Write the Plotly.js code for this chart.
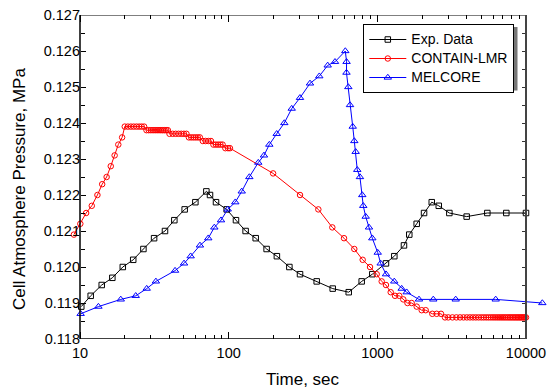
<!DOCTYPE html>
<html><head><meta charset="utf-8">
<script src="https://cdn.plot.ly/plotly-3.0.1.min.js"></script>
<style>html,body{margin:0;padding:0;background:#fff;} #chart{width:547px;height:392px;}</style>
</head><body><div id="chart"></div>
<script>
// ---- data ----
const expTime = [10.2, 11.8, 14.0, 16.5, 19.4, 22.8, 26.7, 31.5, 37.3, 43.1, 50.6, 59.7, 70.8, 74.9, 82.2, 97, 112, 130, 152, 180, 211, 256, 302, 391, 501, 642, 785, 925, 1143, 1301, 1511, 1640, 1840, 2062, 2323, 2589, 3051, 3990, 5493, 7370, 10000];
const expP = [0.1189, 0.1192, 0.1195, 0.1197, 0.1200, 0.1202, 0.1205, 0.1208, 0.1210, 0.1213, 0.1216, 0.1218, 0.1221, 0.1220, 0.1218, 0.1216, 0.1213, 0.1210, 0.1208, 0.1205, 0.1203, 0.1200, 0.1198, 0.1196, 0.1194, 0.1193, 0.1196, 0.1198, 0.1201, 0.1203, 0.1206, 0.1209, 0.1212, 0.1215, 0.1218, 0.1217, 0.1215, 0.1214, 0.1215, 0.1215, 0.1215];

const containTime = [9.1, 10.05, 11.0, 12.0, 13.1, 14.1, 15.1, 16.1, 17.1, 18.1, 19.2,
  20, 21, 22, 23, 24, 25, 26, 27,
  28, 29, 30, 31, 32, 33, 34, 35, 36, 37, 38, 39,
  40, 42, 44, 46, 48, 50, 52,
  54, 56, 58, 60, 62, 64,
  67, 70, 73, 76,
  79, 82, 85, 88, 91,
  95, 99, 102,
  199, 302, 401, 498, 597, 700, 797, 893, 990, 1070, 1143, 1230, 1315, 1405, 1495, 1595, 1702, 1840, 1988, 2115, 2343, 2507, 2681,
  2852, 3000, 3200, 3400, 3600, 3800, 4000, 4200, 4400, 4600, 4800, 5000, 5200, 5400, 5600, 5800, 6000, 6200, 6400, 6600, 6800, 7000, 7200, 7400, 7600, 7800, 8000, 8200, 8400, 8600, 8800, 9000, 9200, 9400, 9600, 9800, 10000];
const containP = [0.1209, 0.1212, 0.1215, 0.1217, 0.1220, 0.1223, 0.1225, 0.1228, 0.1231, 0.1234, 0.1236,
  0.1239, 0.1239, 0.1239, 0.1239, 0.1239, 0.1239, 0.1239, 0.1239,
  0.1238, 0.1238, 0.1238, 0.1238, 0.1238, 0.1238, 0.1238, 0.1238, 0.1238, 0.1238, 0.1238, 0.1238,
  0.1237, 0.1237, 0.1237, 0.1237, 0.1237, 0.1237, 0.1237,
  0.1236, 0.1236, 0.1236, 0.1236, 0.1236, 0.1236,
  0.1235, 0.1235, 0.1235, 0.1235,
  0.1234, 0.1234, 0.1234, 0.1234, 0.1234,
  0.1233, 0.1233, 0.1233,
  0.1226, 0.1220, 0.1216, 0.1211, 0.1208, 0.1205, 0.1202, 0.1200, 0.1198, 0.1196, 0.1195, 0.1193, 0.1192, 0.1192, 0.1191, 0.1190, 0.1190, 0.1189, 0.1188, 0.1188, 0.1187, 0.1187, 0.1187,
  0.1186, 0.1186, 0.1186, 0.1186, 0.1186, 0.1186, 0.1186, 0.1186, 0.1186, 0.1186, 0.1186, 0.1186, 0.1186, 0.1186, 0.1186, 0.1186, 0.1186, 0.1186, 0.1186, 0.1186, 0.1186, 0.1186, 0.1186, 0.1186, 0.1186, 0.1186, 0.1186, 0.1186, 0.1186, 0.1186, 0.1186, 0.1186, 0.1186, 0.1186, 0.1186, 0.1186, 0.1186];

const melcoreTime = [10.1, 13.3, 18.8, 23.7, 28.1, 32.4, 43.6, 50.1, 55.5, 64.1, 72.9, 80.1, 88.8, 98.5, 110.8, 122.4, 137.7, 158.2, 172.8, 187.7, 210.4, 236.7, 265.5, 301.8, 352.4, 407, 463.6, 519, 609, 621, 620, 638, 655, 683, 700, 715, 733, 764, 792, 804, 835, 879, 925, 1006, 1053, 1144, 1300, 1458, 1576, 1906, 2379, 3366, 6254, 12875];
const melcoreP = [0.1187, 0.1189, 0.1191, 0.1192, 0.1194, 0.1196, 0.1199, 0.1201, 0.1203, 0.1206, 0.1208, 0.1211, 0.1213, 0.1216, 0.1218, 0.1221, 0.1225, 0.1229, 0.1231, 0.1234, 0.1237, 0.1240, 0.1244, 0.1247, 0.1251, 0.1253, 0.1256, 0.1257, 0.1260, 0.1257, 0.1254, 0.1250, 0.1245, 0.1239, 0.1235, 0.1232, 0.1227, 0.1225, 0.1220, 0.1217, 0.1214, 0.1211, 0.1208, 0.1204, 0.1201, 0.1198, 0.1196, 0.1194, 0.1193, 0.1191, 0.1191, 0.1191, 0.1191, 0.1190];

const seriesNames = ['Exp. Data', 'CONTAIN-LMR', 'MELCORE'];
const xTickVals = [10, 100, 1000, 10000];
const xTickText = ['10', '100', '1000', '10000'];
const xMinorVals = [20, 30, 40, 50, 60, 70, 80, 90, 200, 300, 400, 500, 600, 700, 800, 900, 2000, 3000, 4000, 5000, 6000, 7000, 8000, 9000];
const xFrame = [10, 10000];
const yRange = [0.118, 0.127];
const xTitle = 'Time, sec';
const yTitle = 'Cell Atmosphere Pressure, MPa';

// ---- layout geometry ----
const FONT = 'Liberation Sans, Arial, Helvetica, sans-serif';
const W = 547, H = 392, ML = 60, MR = 0, MT = 15, MB = 53;
const PW = W - ML - MR, PH = H - MT - MB;
const PXDEC = 148.67;           // pixels per decade on the time axis
const FRAME_L = 80, FRAME_R = 526;
const xp = px => (px - ML) / PW;
const yp = py => (H - MB - py) / PH;
const xRange = [1 - (FRAME_L - ML) / PXDEC, 4 + (W - MR - FRAME_R) / PXDEC];

function trace(x, y, name, color, symbol, size) {
  return {
    x: x, y: y, name: '<span style="font-size:14px">' + name + '</span>',
    type: 'scatter', mode: 'lines+markers', cliponaxis: false,
    line: {color: color, width: 1},
    marker: {symbol: symbol, size: size, color: color, line: {color: color, width: 1}}
  };
}

const data = [
  trace(expTime, expP, seriesNames[0], '#000000', 'square-open', 5.5),
  trace(containTime, containP, seriesNames[1], '#ff0000', 'circle-open', 5.5),
  trace(melcoreTime, melcoreP, seriesNames[2], '#0000ff', 'triangle-up-open', 6.5),
  {x: [], y: [], yaxis: 'y2', showlegend: false, hoverinfo: 'skip', type: 'scatter'}
];

const tickFont = {family: FONT, size: 14.5, color: '#000'};

const layout = {
  width: W, height: H,
  margin: {l: ML, r: MR, t: MT, b: MB, pad: 0},
  paper_bgcolor: '#fff', plot_bgcolor: 'rgba(0,0,0,0)',
  font: {family: FONT, color: '#000'},
  showlegend: true,
  legend: {
    x: xp(363.3), y: yp(24), xanchor: 'left', yanchor: 'top',
    bgcolor: '#fff', bordercolor: '#000', borderwidth: 1,
    font: {family: FONT, size: 11.2, color: '#000'},
    itemwidth: 37, tracegroupgap: 0
  },
  xaxis: {
    type: 'log', range: xRange, domain: [0, 1], anchor: 'y',
    showline: false, zeroline: false, showgrid: false,
    tickmode: 'array', tickvals: xTickVals, ticktext: xTickText,
    ticks: 'inside', ticklen: 7, tickwidth: 1, tickcolor: '#000', mirror: 'ticks',
    tickfont: tickFont, ticklabelstandoff: 3,
    minor: {tickmode: 'array', tickvals: xMinorVals, ticks: 'inside', ticklen: 4, tickwidth: 1, tickcolor: '#000', showgrid: false}
  },
  yaxis: {
    range: yRange, anchor: 'free', position: xp(FRAME_L), side: 'left',
    showline: false, zeroline: false, showgrid: false,
    tick0: 0.118, dtick: 0.001, tickformat: '.3f',
    ticks: 'inside', ticklen: 5, tickwidth: 1, tickcolor: '#000',
    tickfont: tickFont, ticklabelstandoff: 0,
    minor: {tick0: 0.118, dtick: 0.0005, ticks: 'inside', ticklen: 4, tickwidth: 1, tickcolor: '#000', showgrid: false}
  },
  yaxis2: {
    range: yRange, overlaying: 'y', anchor: 'free', position: xp(FRAME_R), side: 'right',
    showline: false, zeroline: false, showgrid: false, showticklabels: false,
    tick0: 0.118, dtick: 0.0005, ticks: 'inside', ticklen: 4, tickwidth: 1, tickcolor: '#333'
  },
  shapes: [
    {type: 'rect', xref: 'paper', yref: 'paper', x0: xp(365.5), x1: xp(517.5), y0: yp(90.5), y1: yp(27),
     fillcolor: '#777', line: {width: 0}, layer: 'above'},
    {type: 'line', xref: 'x', yref: 'y', x0: xFrame[0], x1: xFrame[1], y0: yRange[0], y1: yRange[0], line: {color: '#000', width: 1.5}},
    {type: 'line', xref: 'x', yref: 'y', x0: xFrame[0], x1: xFrame[1], y0: yRange[1], y1: yRange[1], line: {color: '#000', width: 1.2}},
    {type: 'line', xref: 'x', yref: 'y', x0: xFrame[0], x1: xFrame[0], y0: yRange[0], y1: yRange[1], line: {color: '#000', width: 1.5}},
    {type: 'line', xref: 'x', yref: 'y', x0: xFrame[1], x1: xFrame[1], y0: yRange[0], y1: yRange[1], line: {color: '#444', width: 2}}
  ],
  annotations: [
    {text: xTitle, xref: 'paper', yref: 'paper', x: xp(303), y: yp(379), xanchor: 'center', yanchor: 'middle',
     showarrow: false, font: {family: FONT, size: 17, color: '#000'}},
    {text: yTitle, xref: 'paper', yref: 'paper', x: xp(20), y: yp(189), xanchor: 'center', yanchor: 'middle',
     textangle: -90, showarrow: false, font: {family: FONT, size: 17, color: '#000'}}
  ]
};

Plotly.newPlot('chart', data, layout, {displayModeBar: false, staticPlot: true});
</script>
</body></html>
